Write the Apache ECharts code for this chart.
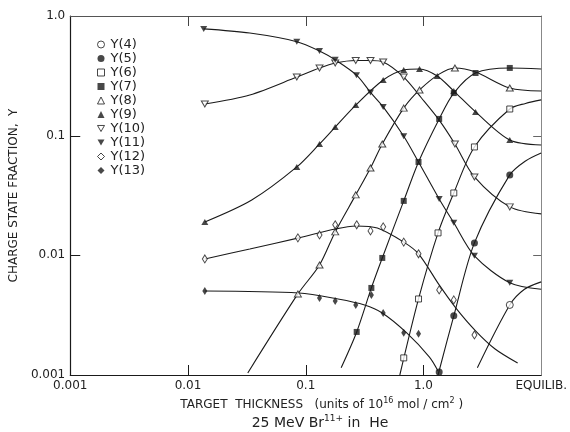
<!DOCTYPE html>
<html>
<head>
<meta charset="utf-8">
<script src="https://cdn.jsdelivr.net/npm/echarts@6/dist/echarts.min.js"></script>
<style>
  html, body { margin: 0; background: #fff; }
  #chart { width: 570px; height: 432px; }
</style>
</head>
<body>
<div id="chart"></div>
<script>
// x: target thickness (10^16 mol/cm^2), last decade stands for equilibrium
// y: charge state fraction
const xTickLabels = ["0.001", "0.01", "0.1", "1.0", "EQUILIB."];
const yTickLabels = ["0.001", "0.01", "0.1", "1.0"];
const xTickVals = [0.01, 0.1, 1];
const yTickVals = [0.01, 0.1];
const names = ["Y(4)", "Y(5)", "Y(6)", "Y(7)", "Y(8)", "Y(9)", "Y(10)", "Y(11)", "Y(12)", "Y(13)"];

// measured points
const y4Pts = [[5.41, 0.00385]];
const y5Pts = [[1.36, 0.00106], [1.81, 0.00312], [2.71, 0.0127], [5.41, 0.047]];
const y6Pts = [[0.68, 0.00139], [0.908, 0.00432], [1.33, 0.0154], [1.81, 0.0332], [2.71, 0.0805], [5.41, 0.167]];
const y7Pts = [[0.271, 0.00229], [0.361, 0.00534], [0.447, 0.00951], [0.68, 0.0285], [0.908, 0.0603], [1.36, 0.138], [1.81, 0.227], [2.77, 0.334], [5.41, 0.368]];
const y8Pts = [[0.0858, 0.00476], [0.131, 0.00831], [0.178, 0.0157], [0.266, 0.032], [0.355, 0.0537], [0.447, 0.0853], [0.68, 0.17], [0.926, 0.241], [1.85, 0.368], [5.41, 0.25]];
const y9Pts = [[0.0139, 0.019], [0.084, 0.0548], [0.131, 0.0853], [0.178, 0.118], [0.266, 0.18], [0.455, 0.292], [0.68, 0.354], [0.926, 0.361], [1.31, 0.315], [1.81, 0.236], [2.77, 0.158], [5.41, 0.092]];
const y10Pts = [[0.0139, 0.184], [0.084, 0.309], [0.131, 0.368], [0.178, 0.405], [0.266, 0.425], [0.355, 0.425], [0.455, 0.413], [0.68, 0.309], [1.85, 0.0853], [2.71, 0.0452], [5.41, 0.0254]];
const y11Pts = [[0.0136, 0.78], [0.084, 0.61], [0.131, 0.51], [0.178, 0.43], [0.27, 0.32], [0.355, 0.23], [0.455, 0.174], [0.68, 0.099], [1.36, 0.0296], [1.81, 0.0187], [2.71, 0.0099], [5.41, 0.0059]];
const y12Pts = [[0.0139, 0.00933], [0.0858, 0.014], [0.131, 0.0148], [0.178, 0.018], [0.271, 0.018], [0.355, 0.016], [0.455, 0.0173], [0.68, 0.0129], [0.908, 0.0103], [1.36, 0.00514], [1.81, 0.00424], [2.71, 0.00216]];
const y13Pts = [[0.0139, 0.00504], [0.131, 0.00441], [0.178, 0.00416], [0.266, 0.00385], [0.361, 0.00467], [0.455, 0.0033], [0.68, 0.00225], [0.908, 0.00221]];

// hand-drawn curves
const y4Fit = [[2.87, 0.00115], [5.41, 0.00385], [7.21, 0.0052], [10, 0.006]];
const y5Fit = [[1.33, 0.001], [1.81, 0.00312], [2.71, 0.0127], [5.41, 0.047], [7.36, 0.0615], [10, 0.0717]];
const y6Fit = [[0.63, 0.001], [0.908, 0.00432], [1.33, 0.0154], [1.81, 0.0332], [2.71, 0.0805], [5.41, 0.167], [7.36, 0.186], [10, 0.199]];
const y7Fit = [[0.2, 0.00115], [0.271, 0.00229], [0.361, 0.00534], [0.447, 0.00951], [0.68, 0.0285], [0.908, 0.0603], [1.36, 0.138], [1.81, 0.227], [2.77, 0.334], [5.41, 0.368], [10, 0.361]];
const y8Fit = [[0.0322, 0.00104], [0.0858, 0.00476], [0.131, 0.00831], [0.178, 0.0157], [0.266, 0.032], [0.355, 0.0537], [0.447, 0.0853], [0.68, 0.17], [0.926, 0.241], [1.36, 0.327], [1.85, 0.368], [2.77, 0.34], [5.41, 0.25], [10, 0.236]];
const y9Fit = [[0.0139, 0.019], [0.0348, 0.029], [0.084, 0.0548], [0.131, 0.0853], [0.178, 0.118], [0.266, 0.18], [0.455, 0.292], [0.68, 0.354], [0.926, 0.361], [1.31, 0.315], [1.81, 0.236], [2.77, 0.158], [5.41, 0.092], [10, 0.0836]];
const y10Fit = [[0.0139, 0.184], [0.0335, 0.219], [0.084, 0.309], [0.131, 0.368], [0.178, 0.405], [0.266, 0.425], [0.355, 0.425], [0.455, 0.413], [0.68, 0.309], [0.962, 0.2065], [1.36, 0.135], [1.85, 0.0853], [2.71, 0.0452], [5.41, 0.0254], [10, 0.0222]];
const y11Fit = [[0.0136, 0.78], [0.0335, 0.72], [0.084, 0.61], [0.131, 0.51], [0.178, 0.43], [0.27, 0.32], [0.355, 0.23], [0.455, 0.174], [0.68, 0.099], [0.908, 0.0603], [1.36, 0.0296], [1.81, 0.0187], [2.71, 0.0099], [5.41, 0.0059], [10, 0.0052]];
const y12Fit = [[0.0139, 0.00933], [0.0335, 0.0113], [0.0874, 0.014], [0.178, 0.0166], [0.266, 0.0176], [0.406, 0.0169], [0.68, 0.0129], [0.908, 0.0103], [1.36, 0.00566], [1.88, 0.00364], [2.77, 0.00234], [4.06, 0.00165], [6.31, 0.00126]];
const y13Fit = [[0.0139, 0.00504], [0.0874, 0.00485], [0.188, 0.00432], [0.316, 0.00385], [0.447, 0.0033], [0.721, 0.00225], [1.12, 0.00142], [1.33, 0.00108]];

const points = [y4Pts, y5Pts, y6Pts, y7Pts, y8Pts, y9Pts, y10Pts, y11Pts, y12Pts, y13Pts];
const fits = [y4Fit, y5Fit, y6Fit, y7Fit, y8Fit, y9Fit, y10Fit, y11Fit, y12Fit, y13Fit];

const ink = "#1a1a1a";
const downTri = "path://M0,0L10,0L5,8.66Z";
const marks = [
  { symbol: "circle", size: 7, open: true },
  { symbol: "circle", size: 7, open: false },
  { symbol: "rect", size: 6, open: true },
  { symbol: "rect", size: 6, open: false },
  { symbol: "triangle", size: [7, 6], open: true },
  { symbol: "triangle", size: [7, 6], open: false },
  { symbol: downTri, size: [7, 6], open: true },
  { symbol: downTri, size: [7, 6], open: false },
  { symbol: "diamond", size: [5, 8], open: true },
  { symbol: "diamond", size: [5, 8], open: false },
];

const font = "DejaVu Sans";
const series = [];
fits.forEach((f, i) => {
  series.push({
    name: "fit" + i,
    type: "line",
    data: f,
    smooth: 0.3,
    showSymbol: false,
    silent: true,
    lineStyle: { color: ink, width: 1.1 },
    z: 2,
  });
});
points.forEach((p, i) => {
  const m = marks[i];
  series.push({
    name: names[i],
    type: "scatter",
    data: p,
    symbol: m.symbol,
    symbolSize: m.size,
    itemStyle: m.open
      ? { color: "#fff", borderColor: ink, borderWidth: 1 }
      : { color: ink },
    z: 3,
  });
});

const chart = echarts.init(document.getElementById("chart"));
chart.setOption({
  backgroundColor: "#fff",
  animation: false,
  textStyle: { fontFamily: font },
  grid: { left: 67, top: 16, right: 23, bottom: 57 },
  title: {
    text: "25 MeV Br{s|11+} in  He",
    left: 315,
    textAlign: "center",
    top: 409,
    textStyle: {
      fontFamily: font, fontSize: 14, fontWeight: "normal", color: "#222",
      rich: { s: { fontFamily: font, fontSize: 9, color: "#222", verticalAlign: "top", lineHeight: 18 } },
    },
  },
  legend: {
    data: names,
    orient: "vertical",
    left: 92,
    top: 33,
    itemWidth: 7,
    itemHeight: 7,
    itemGap: 1,
    itemStyle: { borderWidth: 1 },
    textStyle: { fontFamily: font, fontSize: 13, color: "#222", padding: [0, 0, 0, 1] },
  },
  xAxis: [
    {
      type: "log", logBase: 10, min: 0.001, max: 10,
      name: "TARGET  THICKNESS   (units of 10{s|16} mol / cm{s|2} )",
      nameLocation: "middle", nameGap: 21,
      nameTextStyle: {
        fontFamily: font, fontSize: 12, color: "#222", padding: [0, 0, 0, 32],
        rich: { s: { fontFamily: font, fontSize: 8, color: "#222", verticalAlign: "top", lineHeight: 16 } },
      },
      axisLine: { lineStyle: { color: ink, width: 1.2 } },
      axisTick: { show: false },
      axisLabel: {
        color: "#222", fontSize: 12, margin: 5,
        formatter: (v) => xTickLabels[Math.round(Math.log10(v)) + 3],
      },
      splitLine: { show: false },
      minorTick: { show: false },
    },
    {
      type: "log", logBase: 10, min: 0.001, max: 10, position: "top",
      axisLine: { show: true, lineStyle: { color: "#555", width: 1 } },
      axisTick: { show: false },
      axisLabel: { show: false },
      splitLine: { show: false },
    },
  ],
  yAxis: [
    {
      type: "log", logBase: 10, min: 0.001, max: 1,
      name: "CHARGE STATE FRACTION,  Y",
      nameLocation: "middle", nameGap: 44, nameRotate: 90,
      nameTextStyle: { fontFamily: font, fontSize: 12, color: "#222" },
      axisLine: { show: true, lineStyle: { color: ink, width: 1.2 } },
      axisTick: { show: false },
      axisLabel: {
        color: "#222", fontSize: 12, margin: 5,
        formatter: (v) => yTickLabels[Math.round(Math.log10(v)) + 3],
      },
      splitLine: { show: false },
    },
    {
      type: "log", logBase: 10, min: 0.001, max: 1, position: "right",
      axisLine: { show: true, lineStyle: { color: "#888", width: 1 } },
      axisTick: { show: false },
      axisLabel: { show: false },
      splitLine: { show: false },
    },
  ],
  series: series,
});

// inward ticks on all four sides, placed through the axes' own scales
const xPx = (v) => chart.convertToPixel({ xAxisIndex: 0 }, v);
const yPx = (v) => chart.convertToPixel({ yAxisIndex: 0 }, v);
const plotLeft = xPx(0.001), plotRight = xPx(10), plotBottom = yPx(0.001), plotTop = yPx(1);
const tick = (x1, y1, x2, y2, color) => ({
  type: "line", silent: true, z: 5,
  shape: { x1: x1, y1: y1, x2: x2, y2: y2 },
  style: { stroke: color, lineWidth: 1 },
});
const ticks = [];
xTickVals.forEach((v) => {
  const x = Math.round(xPx(v)) + 0.5;
  ticks.push(tick(x, plotBottom, x, plotBottom - 10, ink));
  ticks.push(tick(x, plotTop, x, plotTop + 10, "#444"));
});
yTickVals.forEach((v) => {
  const y = Math.round(yPx(v)) + 0.5;
  ticks.push(tick(plotLeft, y, plotLeft + 10, y, ink));
  ticks.push(tick(plotRight, y, plotRight - 8, y, "#666"));
});
chart.setOption({ graphic: ticks });
</script>
</body>
</html>
